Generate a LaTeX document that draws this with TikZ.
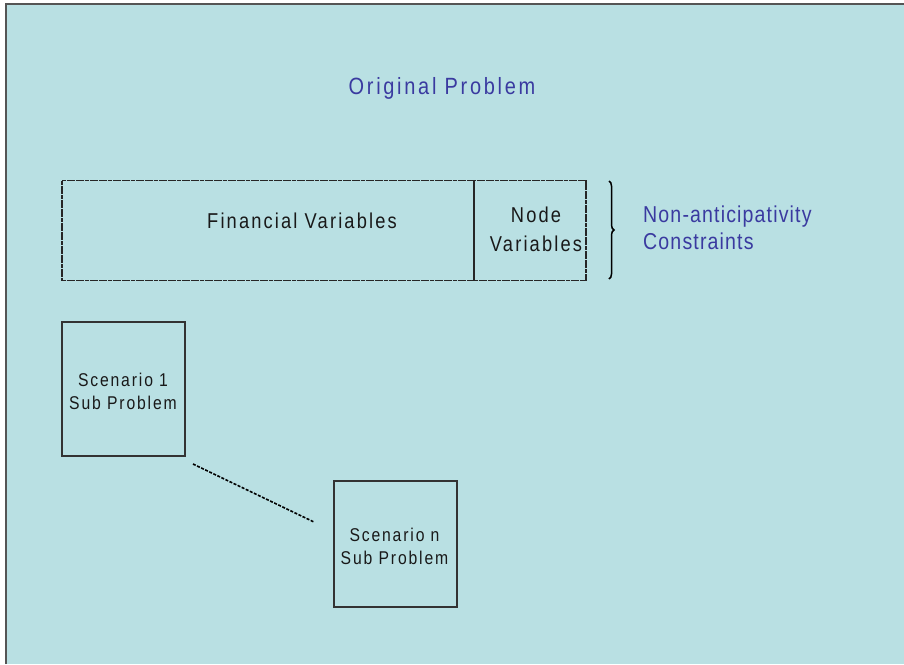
\documentclass[tikz,border=0pt]{standalone}
\usepackage{fontspec}
\setmainfont{Liberation Sans}
\newfontfamily\titlefont[FakeStretch=0.85,LetterSpace=11.5]{Liberation Sans}
\newfontfamily\slidefont[FakeStretch=0.85,LetterSpace=10]{Liberation Sans}
\newfontfamily\notefont[FakeStretch=0.85,LetterSpace=5]{Liberation Sans}
\usetikzlibrary{positioning}
\usetikzlibrary{decorations.pathreplacing}

\definecolor{slidebg}{HTML}{B9E0E3}
\definecolor{slideblue}{HTML}{3A3AA0}
\definecolor{slideedge}{HTML}{555555}

\begin{document}
\begin{tikzpicture}[x=1pt,y=-1pt,
    varbox/.style={draw=black!85,line width=1.6pt,dash pattern=on 4pt off 0.6pt,
                   inner sep=0pt,minimum height=100pt},
    subbox/.style={draw=black!80,line width=1.2pt,inner sep=0pt,minimum width=123pt},
    vartext/.style={inner sep=0pt,text=black!90,font=\slidefont\fontsize{21.5}{29}\selectfont},
    subtext/.style={inner sep=0pt,align=center,text=black!90,font=\slidefont\fontsize{18.5}{23}\selectfont},
    bluetext/.style={inner sep=0pt,text=slideblue}]

            % \draw [help lines] (0,0) grid (904,664);

            \useasboundingbox (0,0) rectangle (904,664);
            \fill[slidebg] (6,4) rectangle (904,664);
            \draw[slideedge,line width=1.5pt] (6,664) -- (6,4) -- (904,4);

            \path   (442,94) node (title) [bluetext,anchor=base,font=\titlefont\fontsize{23.5}{27}\selectfont] {Original Problem}

                    (268,230.5) node (fin) [varbox,minimum width=412pt] {}
                    (530,230.5) node (nodevar) [varbox,minimum width=112pt] {}
                    (302,228) node (fintext) [vartext,anchor=base] {Financial Variables}
                    (536,229.6) node (nodetext) [vartext,align=center] {Node\\Variables}

                    (123.5,389) node (sc1) [subbox,minimum height=134pt] {}
                    (395.5,544) node (scn) [subbox,minimum height=126pt] {}
                    (123,391.7) node (sc1text) [subtext] {Scenario 1\\Sub Problem}
                    (394.5,546.7) node (scntext) [subtext] {Scenario n\\Sub Problem}

                    (643,228) node (nac) [bluetext,anchor=west,align=left,font=\notefont\fontsize{23}{27}\selectfont] {Non-anticipativity\\Constraints};

            \coordinate (bracetop) at (609,181);
            \coordinate (bracebot) at (609,279);
            \coordinate (gapa) at (193,464);
            \coordinate (gapb) at (314,522);

            \draw[decorate,decoration={brace,amplitude=5pt},line width=1.5pt] (bracetop) -- (bracebot);
            \draw[line width=1.6pt,dash pattern=on 3pt off 1.5pt] (gapa) -- (gapb);
        \end{tikzpicture}
\end{document}
